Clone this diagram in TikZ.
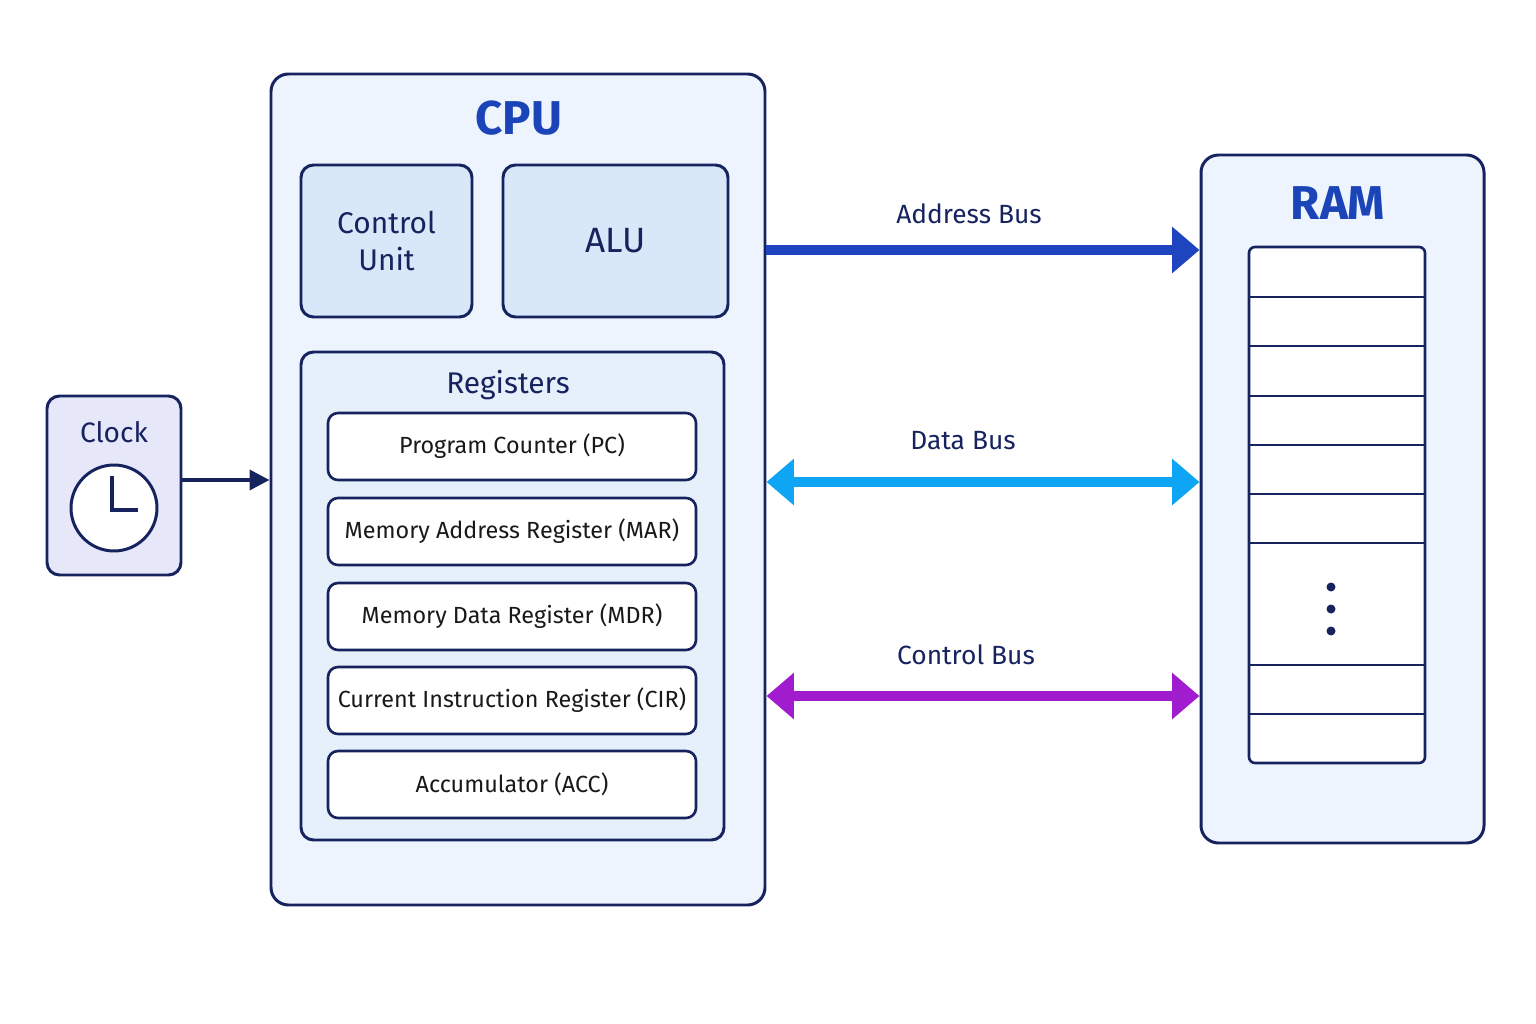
\documentclass[tikz,border=0pt]{standalone}
\usepackage{fontspec}
\setmainfont{Fira Sans}
\usetikzlibrary{arrows.meta,fit}
\definecolor{navy}{HTML}{16235E}
\definecolor{titleblue}{HTML}{1A44B8}
\definecolor{cpufill}{HTML}{EDF4FD}
\definecolor{unitfill}{HTML}{D8E8F8}
\definecolor{regfill}{HTML}{E6F0FB}
\definecolor{clockfill}{HTML}{E6E8FA}
\definecolor{addrblue}{HTML}{1E44C0}
\definecolor{datablue}{HTML}{0EA5F5}
\definecolor{ctrlpurple}{HTML}{A21CCF}
\tikzset{
  box/.style={draw=navy, line width=1.7pt, rounded corners=0.35cm, inner sep=0pt},
  regbox/.style={draw=navy, line width=1.5pt, fill=white, rounded corners=0.2cm, inner sep=0pt},
  regtext/.style={font=\fontsize{13.3}{16}\selectfont, text=black!90},
  bus/.style={line width=0.2cm, {Triangle[length=0.55cm,width=0.9cm]}-{Triangle[length=0.55cm,width=0.9cm]}},
  buslabel/.style={font=\fontsize{15}{18}\selectfont, text=navy},
}
\begin{document}
\begin{tikzpicture}[x=0.02cm, y=-0.02cm]
\useasboundingbox (0,0) rectangle (1536,1024);
\fill[white] (0,0) rectangle (1536,1024);

% CPU
\node[box, fill=cpufill, fit={(271,74)(765,905)}] (cpu) {};
\node[font=\bfseries\fontsize{27}{30}\selectfont, text=titleblue] (cputitle) at (519,118) {CPU};
\node[box, fill=unitfill, rounded corners=0.25cm, fit={(301,165)(472,317)}] (cu) {};
\node[font=\fontsize{17}{21}\selectfont, text=navy, align=center] at (cu) {Control\\Unit};
\node[box, fill=unitfill, rounded corners=0.25cm, fit={(503,165)(728,317)}] (alu) {};
\node[font=\fontsize{20}{24}\selectfont, text=navy] at (alu) {ALU};

% registers
\node[box, fill=regfill, rounded corners=0.25cm, fit={(301,352)(724,840)}] (regs) {};
\node[font=\fontsize{17}{21}\selectfont, text=navy] (regtitle) at (508,385) {Registers};
\foreach \name/\top/\txt in {pc/413/Program Counter (PC), mar/498/Memory Address Register (MAR),
    mdr/583/Memory Data Register (MDR), cir/667/Current Instruction Register (CIR),
    acc/751/Accumulator (ACC)} {
  \node[regbox, fit={(328,\top)(696,\top+67)}] (\name) {};
  \node[regtext] at (\name) {\txt};
}

% clock
\node[box, fill=clockfill, rounded corners=0.25cm, fit={(47,396)(181,575)}] (clk) {};
\node[font=\fontsize{16}{20}\selectfont, text=navy] at (114,432) {Clock};
\draw[navy, line width=1.7pt, fill=white] (114,508) circle (0.86cm);
\draw[navy, line width=2.2pt] (112,476) -- (112,510) -- (138,510);
\draw[navy, line width=2.2pt, -{Triangle[length=0.4cm,width=0.4cm]}] (clk.east |- 0,480) -- (cpu.west |- 0,480);

% RAM
\node[box, fill=cpufill, fit={(1201,155)(1484,843)}] (ram) {};
\node[font=\bfseries\fontsize{27}{30}\selectfont, text=titleblue] (ramtitle) at (1338,203) {RAM};
\node[draw=navy, line width=1.5pt, fill=white, rounded corners=0.12cm, inner sep=0pt,
  fit={(1249,247)(1425,763)}] (cells) {};
\foreach \y in {297,346,396,445,494,543,665,714}
  \draw[navy, line width=1.5pt] (cells.west |- 0,\y) -- (cells.east |- 0,\y);
\foreach \y in {587,609,631}
  \fill[navy] (1331,\y) circle (0.09cm);

% buses
\draw[addrblue, line width=0.2cm, -{Triangle[length=0.55cm,width=0.9cm]}] (cpu.east |- 0,250) -- (ram.west |- 0,250);
\node[buslabel] at (969,214) {Address Bus};
\draw[bus, datablue] (cpu.east |- 0,482) -- (ram.west |- 0,482);
\node[buslabel] at (963,441) {Data Bus};
\draw[bus, ctrlpurple] (cpu.east |- 0,696) -- (ram.west |- 0,696);
\node[buslabel] at (966,655) {Control Bus};
\end{tikzpicture}
\end{document}
